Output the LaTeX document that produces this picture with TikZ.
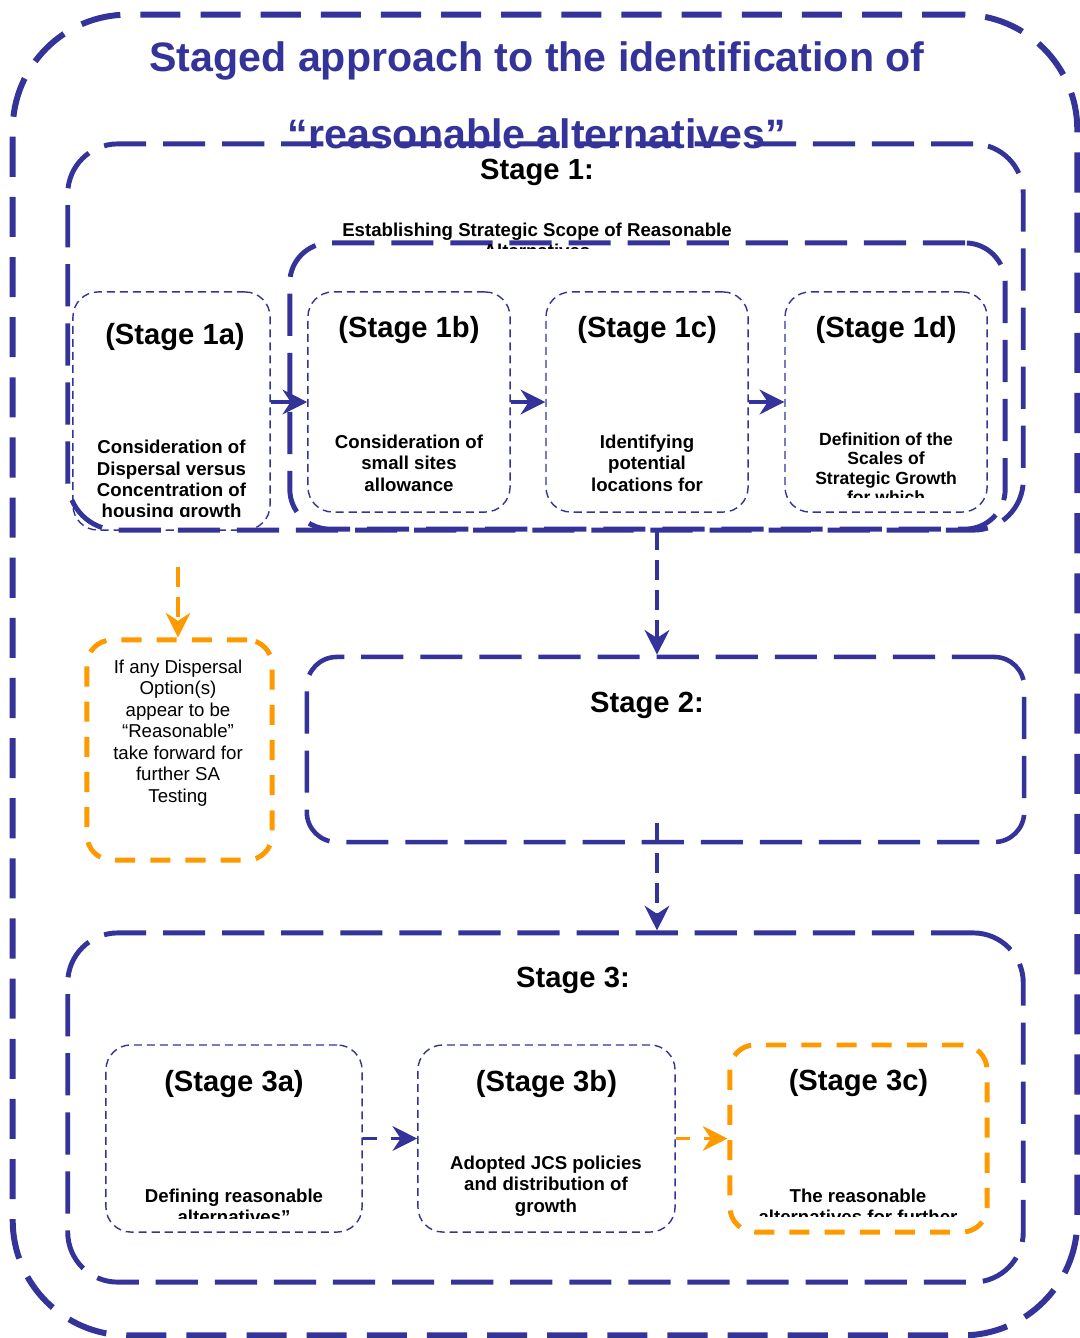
\documentclass[tikz,border=0pt]{standalone}
\usepackage{fontspec}
\setmainfont{Liberation Sans}
\usetikzlibrary{arrows.meta,positioning,calc}
\definecolor{planblue}{RGB}{51,51,153}
\definecolor{optorange}{RGB}{255,153,0}

\begin{document}
\begin{tikzpicture}[
    x=0.01cm, y=-0.01cm,
    every node/.style={align=center, inner sep=0pt},
    framebox/.style={rectangle, rounded corners=1.15cm, draw=planblue, line width=1.7pt, dash pattern=on 11.4pt off 5.7pt},
    stagebox/.style={rectangle, rounded corners=0.5cm, draw=planblue, line width=1.4pt, dash pattern=on 12pt off 4.8pt},
    subbox/.style={rectangle, rounded corners=0.25cm, draw=planblue, line width=0.4pt, dash pattern=on 2.3pt off 1.4pt},
    optbox/.style={rectangle, rounded corners=0.25cm, draw=optorange, line width=1.4pt, dash pattern=on 5.7pt off 4.3pt},
    titletxt/.style={font=\fontsize{11.7}{22}\selectfont\bfseries, text=planblue},
    headtxt/.style={font=\fontsize{8.3}{9.6}\selectfont\bfseries},
    bodytxt/.style={font=\fontsize{5.3}{6.05}\selectfont\bfseries},
    opttxt/.style={font=\fontsize{5.3}{6.1}\selectfont},
    arr/.style={-{Stealth[length=7pt,width=7pt]}, line width=1.2pt, draw=planblue},
    droparr/.style={arr, dash pattern=on 5.7pt off 2.8pt, line width=1.1pt},
    optarr/.style={droparr, draw=optorange}
]
\useasboundingbox (0,0) rectangle (1080,1338);

% Outer frame & title
\node[framebox, minimum width=10.64cm, minimum height=13.2cm] (frame) at (545,675) {};
\node[titletxt] (title) at (537,95) {Staged approach to the identification of\\“reasonable alternatives”};

% Stage 1
\node[stagebox, minimum width=9.55cm, minimum height=3.86cm] (s1) at (545.5,337) {};
\node[stagebox, rounded corners=0.4cm, minimum width=7.15cm, minimum height=2.86cm] (s1grp) at (647.5,386) {};
\node[headtxt] (s1head) at (537,172) {Stage 1:};
\begin{scope}
  \clip (300,200) rectangle (800,248);
  \node[bodytxt] (s1scope) at (537,240.5) {Establishing Strategic Scope of Reasonable\\Alternatives};
\end{scope}

\node[subbox, minimum width=1.97cm, minimum height=2.38cm] (s1a) at (171.5,411) {};
\node[subbox, minimum width=2.02cm, minimum height=2.2cm] (s1b) at (409,402) {};
\node[subbox, minimum width=2.02cm, minimum height=2.2cm, right=0.345cm of s1b] (s1c) {};
\node[subbox, minimum width=2.02cm, minimum height=2.2cm, right=0.355cm of s1c] (s1d) {};

\node[headtxt] (s1ahead) at (175,337) {(Stage 1a)};
\node[headtxt] (s1bhead) at ($(s1b.north)+(0,39)$) {(Stage 1b)};
\node[headtxt] (s1chead) at ($(s1c.north)+(0,39)$) {(Stage 1c)};
\node[headtxt] (s1dhead) at ($(s1d.north)+(0,39)$) {(Stage 1d)};

\begin{scope}
  \clip (s1a.north west) rectangle (270,516);
  \node[bodytxt] (s1abody) at (171.5,481) {Consideration of\\Dispersal versus\\Concentration of\\housing growth};
\end{scope}
\node[bodytxt] (s1bbody) at ($(s1b.north)+(0,172)$) {Consideration of\\small sites\\allowance};
\node[bodytxt] (s1cbody) at ($(s1c.north)+(0,172)$) {Identifying\\potential\\locations for};
\begin{scope}
  \clip (s1d.north west) rectangle (987,497);
  \node[bodytxt, font=\fontsize{5}{5.5}\selectfont\bfseries] (s1dbody) at ($(s1d.north)+(0,177)$) {Definition of the\\Scales of\\Strategic Growth\\for which};
\end{scope}

% Dispersal option
\node[optbox, minimum width=1.85cm, minimum height=2.2cm] (disp) at (179.5,750) {};
\node[opttxt] (disptxt) at (178,733) {If any Dispersal\\Option(s)\\appear to be\\“Reasonable”\\take forward for\\further SA\\Testing};

% Stage 2
\node[stagebox, rounded corners=0.3cm, line width=1.3pt, minimum width=7.17cm, minimum height=1.85cm] (s2) at (665.5,749.5) {};
\node[headtxt] (s2head) at (647,705) {Stage 2:};

% Stage 3
\node[stagebox, minimum width=9.55cm, minimum height=3.49cm] (s3) at (545.5,1107.5) {};
\node[headtxt] (s3head) at (573,980) {Stage 3:};

\node[subbox, minimum width=2.56cm, minimum height=1.87cm] (s3a) at (234,1138.5) {};
\node[subbox, minimum width=2.57cm, minimum height=1.87cm] (s3b) at (546.5,1138.5) {};
\node[optbox, minimum width=2.57cm, minimum height=1.87cm] (s3c) at (858.5,1138.5) {};

\node[headtxt] (s3ahead) at ($(s3a.north)+(0,40)$) {(Stage 3a)};
\node[headtxt] (s3bhead) at ($(s3b.north)+(0,40)$) {(Stage 3b)};
\node[headtxt] (s3chead) at ($(s3c.north)+(0,41)$) {(Stage 3c)};

\begin{scope}
  \clip (s3a.north west) rectangle (362,1218);
  \node[bodytxt] (s3abody) at (234,1206.5) {Defining reasonable\\alternatives”};
\end{scope}
\node[bodytxt] (s3bbody) at (546,1186) {Adopted JCS policies\\and distribution of\\growth};
\begin{scope}
  \clip (s3c.north west) rectangle (988,1216);
  \node[bodytxt] (s3cbody) at (858,1206.5) {The reasonable\\alternatives for further};
\end{scope}

% Connections
\coordinate (drop1) at (657,530);
\coordinate (drop2) at (657,823);
\coordinate (dispstart) at (178,567);
\draw[arr] (s1a.east |- s1b.west) -- (s1b.west);
\draw[arr] (s1b) -- (s1c);
\draw[arr] (s1c) -- (s1d);
\draw[droparr] (drop1) -- (drop1 |- s2.north);
\draw[droparr] (drop2) -- (drop2 |- s3.north);
\draw[optarr] (dispstart) -- (dispstart |- disp.north);
\draw[droparr, dash pattern=on 4pt off 4pt] (s3a) -- (s3b);
\draw[optarr, dash pattern=on 4pt off 4pt] (s3b) -- (s3c);

\end{tikzpicture}
\end{document}
